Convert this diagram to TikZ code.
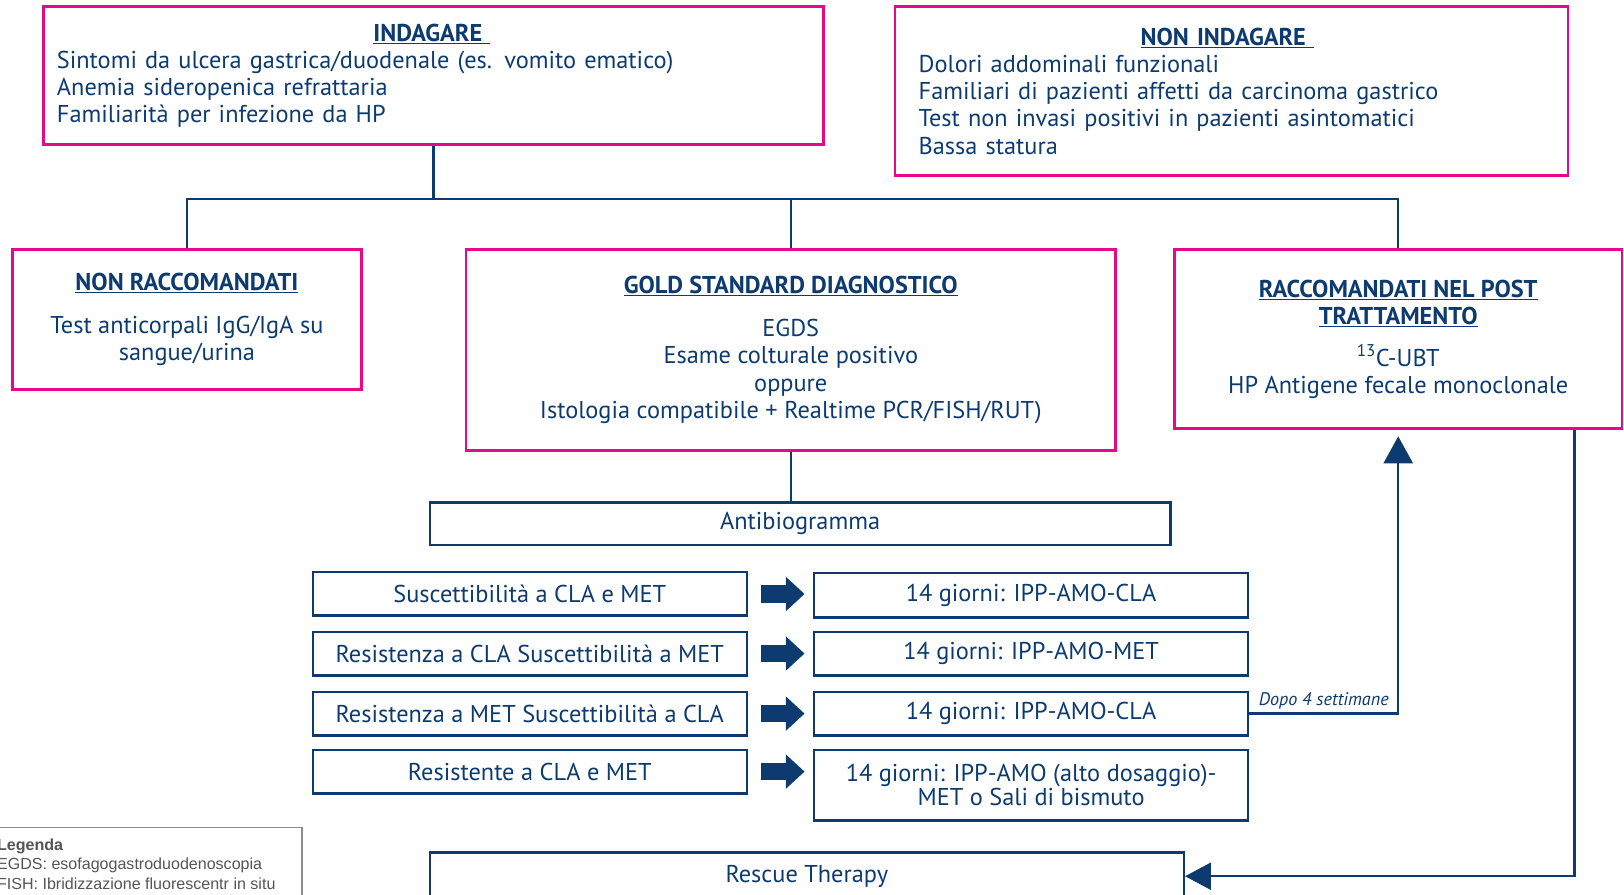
\documentclass[tikz,border=0pt]{standalone}
\usepackage{fontspec}
\setmainfont{PT Sans}
\newfontfamily\legfont{Liberation Sans}
\usetikzlibrary{arrows.meta,calc}
\definecolor{navy}{HTML}{0D3B70}
\definecolor{fucsia}{HTML}{E8088B}
\definecolor{leggrey}{HTML}{8C8C8C}
\definecolor{legtext}{HTML}{555555}
\newcommand{\titolo}[1]{\textbf{\underline{#1}}}

\begin{document}
\begin{tikzpicture}[x=1pt,y=-1pt,
    pinkbox/.style={draw=fucsia, line width=2.6pt, rectangle, inner sep=0pt, text=navy, font=\fontsize{23.5}{26.3}\selectfont},
    bluebox/.style={draw=navy, line width=2.4pt, rectangle, inner sep=0pt, text=navy, font=\fontsize{23.5}{26}\selectfont, minimum width=419pt, minimum height=42pt},
    link/.style={draw=navy, line width=2.4pt},
    bigarrow/.style={draw=navy, line width=17pt, -{Triangle[length=18pt,width=32pt]}, shorten <=13pt, shorten >=8pt}]
        \clip (0,0) rectangle (1568,864);

        % Who to test
        \node[pinkbox, minimum width=753pt, minimum height=133pt, text width=727pt, align=left] (indagare) at (418.5,73)
            {\makebox[724pt]{\titolo{INDAGARE\ }}\\ Sintomi da ulcera gastrica/duodenale (es. vomito ematico)\\ Anemia sideropenica refrattaria\\ Familiarità per infezione da HP};
        \node[pinkbox, minimum width=650pt, minimum height=163pt, text width=604pt, align=left] (nonindagare) at (1189,88)
            {\makebox[596pt]{\titolo{NON INDAGARE\ }}\\ Dolori addominali funzionali\\ Familiari di pazienti affetti da carcinoma gastrico\\ Test non invasi positivi in pazienti asintomatici\\ Bassa statura};

        % Diagnostic tests
        \node[pinkbox, minimum width=337pt, minimum height=135pt, align=center] (nonracc) at (180.5,308.5)
            {\titolo{NON RACCOMANDATI}\\[15pt] Test anticorpali IgG/IgA su\\ sangue/urina};
        \node[pinkbox, minimum width=627pt, minimum height=194pt, align=center] (gold) at (763.5,338)
            {\titolo{GOLD STANDARD DIAGNOSTICO}\\[15pt] EGDS\\ Esame colturale positivo\\ oppure\\ Istologia compatibile + Realtime PCR/FISH/RUT)};
        \node[pinkbox, minimum width=432pt, minimum height=173pt, align=center] (racc) at (1350,327.5)
            {\titolo{RACCOMANDATI NEL POST}\\ \titolo{TRATTAMENTO}\\[14pt] \textsuperscript{13}C-UBT\\ HP Antigene fecale monoclonale};

        % Antibiogram and therapies
        \node[bluebox, minimum width=715pt, minimum height=41pt] (antibio) at (772.5,505.5) {Antibiogramma};

        \node[bluebox] (sus) at (511.5,573.5) {Suscettibilità a CLA e MET};
        \node[bluebox] (rescla) at (511.5,631) {Resistenza a CLA Suscettibilità a MET};
        \node[bluebox] (resmet) at (511.5,689) {Resistenza a MET Suscettibilità a CLA};
        \node[bluebox] (resboth) at (511.5,745) {Resistente a CLA e MET};

        \node[bluebox, minimum height=43pt] (terA) at (995.5,574.5) {14 giorni: IPP-AMO-CLA};
        \node[bluebox] (terB) at (995.5,631) {14 giorni: IPP-AMO-MET};
        \node[bluebox] (terC) at (995.5,689) {14 giorni: IPP-AMO-CLA};
        \node[bluebox, minimum height=68pt, align=center, font=\fontsize{23.5}{19.5}\selectfont] (terD) at (995.5,758)
            {14 giorni: IPP-AMO (alto dosaggio)-\\ MET o Sali di bismuto};

        \node[bluebox, minimum width=728pt, minimum height=46pt] (rescue) at (779,846) {Rescue Therapy};

        % Legend
        \node[draw=leggrey, line width=1.5pt, minimum width=297pt, minimum height=100pt, anchor=north west, inner sep=0pt] (legbox) at (-6,798) {};
        \node[anchor=north west, text=legtext, font=\legfont\fontsize{15.5}{18.5}\selectfont, align=left, inner sep=0pt] (legtxt) at (-3,810)
            {\textbf{Legenda}\\ EGDS: esofagogastroduodenoscopia\\ FISH: Ibridizzazione fluorescentr in situ};

        % Connectors
        \draw[link] (indagare.south) -- ++(0,51.5) coordinate (split);
        \draw[link] (nonracc.north) |- (split) -| (racc.north);
        \draw[link] (gold.north) -- (gold.north |- split);
        \draw[link] (gold.south) -- (gold.south |- antibio.north);

        \draw[bigarrow] (sus.east) -- (sus.east -| terA.west);
        \draw[bigarrow] (rescla.east) -- (rescla.east -| terB.west);
        \draw[bigarrow] (resmet.east) -- (resmet.east -| terC.west);
        \draw[bigarrow] (resboth.east) -- (resboth.east -| terD.west);

        \draw[link, -{Triangle[length=26pt,width=28pt]}, shorten >=6pt] (terC.east) -| (racc.south)
            node[pos=0.25, above, text=navy, font=\fontsize{17.5}{20}\selectfont\itshape] {Dopo 4 settimane};
        \coordinate (rdrop) at ($(racc.south east)+(-47,0)$);
        \draw[link, -{Triangle[length=25pt,width=26pt]}] (rdrop) |- (rescue.east);
\end{tikzpicture}
\end{document}
